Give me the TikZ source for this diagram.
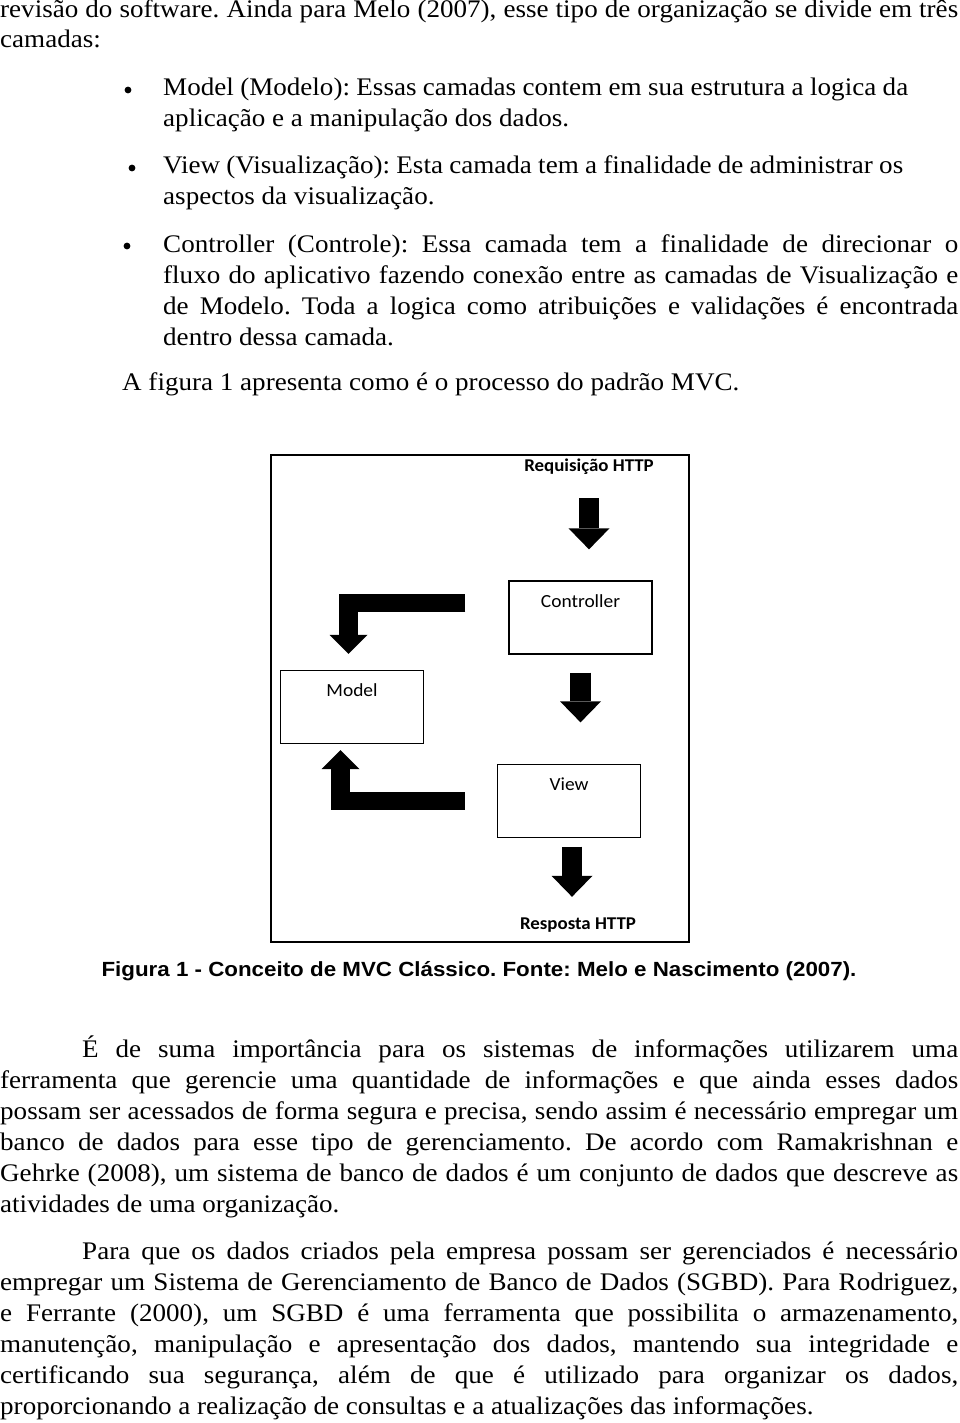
\documentclass[tikz,border=0pt]{standalone}
\usepackage{fontspec}
\setmainfont{Liberation Serif}[FakeStretch=1.07]
\newfontfamily\capfont{Liberation Sans}[FakeStretch=1.09]
\newfontfamily\figfont{Carlito}[FakeStretch=1.05]
\usetikzlibrary{arrows.meta}
\newcommand{\jl}[2]{\makebox[#1pt][s]{#2}}
\frenchspacing

\begin{document}
\begin{tikzpicture}[x=1pt,y=-1pt,
        txt/.style={anchor=base west,inner sep=0pt,font=\fontsize{25.3}{31}\selectfont},
        box/.style={draw,line width=1.3pt,minimum width=143pt,inner xsep=0pt,inner ysep=13pt,
            text height=13pt,text depth=34pt,font=\figfont\fontsize{18.5}{20}\selectfont},
        lbl/.style={inner sep=0pt,text height=13pt,text depth=4pt,font=\figfont\bfseries\fontsize{18}{20}\selectfont},
        blk/.style={line width=20.5pt,-{Triangle[width=41pt,length=21pt,line width=0pt]}},
        bnt/.style={line width=18.5pt,line join=miter,-{Triangle[width=38pt,length=19pt,line width=0pt]}}]
        \useasboundingbox (0,0) rectangle (960,1423);
        % text above the figure
        \node[txt] (t1) at (0,18) {\jl{958}{revisão do software. Ainda para Melo (2007), esse tipo de organização se divide em três}};
        \node[txt] (t2) at (0,48) {camadas:};
        \fill (128,90) circle (3.4pt) (132,168) circle (3.4pt) (127,246) circle (3.4pt);
        \node[txt] (t3) at (163,96) {\jl{745}{Model (Modelo): Essas camadas contem em sua estrutura a logica da}};
        \node[txt] (t4) at (163,127) {aplicação e a manipulação dos dados.};
        \node[txt] (t5) at (163,174) {\jl{740}{View (Visualização): Esta camada tem a finalidade de administrar os}};
        \node[txt] (t6) at (163,205) {aspectos da visualização.};
        \node[txt] (t7) at (163,252) {\jl{795}{Controller (Controle): Essa camada tem a finalidade de direcionar o}};
        \node[txt] (t8) at (163,283) {\jl{795}{fluxo do aplicativo fazendo conexão entre as camadas de Visualização e}};
        \node[txt] (t9) at (163,314) {\jl{795}{de Modelo. Toda a logica como atribuições e validações é encontrada}};
        \node[txt] (t10) at (163,345) {dentro dessa camada.};
        \node[txt] (t11) at (122,390) {A figura 1 apresenta como é o processo do padrão MVC.};
        % the MVC figure
        \draw[line width=2.7pt] (271,455) rectangle (689,942);
        \node[lbl] (req) at (589,467) {Requisição HTTP};
        \node[box] (ctrl) at (580.5,617.5) {Controller};
        \node[box] (model) at (352,707) {Model};
        \node[box] (view) at (569,801) {View};
        \node[lbl] (resp) at (578,925) {Resposta HTTP};
        \draw[blk,shorten <=22.5pt,shorten >=31pt] (req.south) -- (req.south |- ctrl.north);
        \draw[blk,shorten <=18pt,shorten >=41.5pt] (ctrl.south) -- (ctrl.south |- view.north);
        \draw[blk,shorten <=8.5pt,shorten >=19.5pt] ([xshift=3pt]view.south) -- ([xshift=-6pt]resp.north);
        \draw[bnt] ([xshift=-43pt,yshift=14.5pt]ctrl.west) -| ([xshift=-3.5pt,yshift=16pt]model.north);
        \draw[bnt] ([xshift=-32pt]view.west) -| ([xshift=-11.5pt,yshift=-6pt]model.south);
        \node[anchor=base,inner sep=0pt,font=\capfont\bfseries\fontsize{20.5}{24}\selectfont] (cap) at (479,976)
            {Figura 1 - Conceito de MVC Clássico. Fonte: Melo e Nascimento (2007).};
        % text below the figure
        \node[txt] (p1) at (82,1057) {\jl{876}{É de suma importância para os sistemas de informações utilizarem uma}};
        \node[txt] (p2) at (0,1088) {\jl{958}{ferramenta que gerencie uma quantidade de informações e que ainda esses dados}};
        \node[txt] (p3) at (0,1119) {\jl{958}{possam ser acessados de forma segura e precisa, sendo assim é necessário empregar um}};
        \node[txt] (p4) at (0,1150) {\jl{958}{banco de dados para esse tipo de gerenciamento. De acordo com Ramakrishnan e}};
        \node[txt] (p5) at (0,1181) {\jl{958}{Gehrke (2008), um sistema de banco de dados é um conjunto de dados que descreve as}};
        \node[txt] (p6) at (0,1212) {atividades de uma organização.};
        \node[txt] (p7) at (82,1259) {\jl{876}{Para que os dados criados pela empresa possam ser gerenciados é necessário}};
        \node[txt] (p8) at (0,1290) {\jl{958}{empregar um Sistema de Gerenciamento de Banco de Dados (SGBD). Para Rodriguez,}};
        \node[txt] (p9) at (0,1321) {\jl{958}{e Ferrante (2000), um SGBD é uma ferramenta que possibilita o armazenamento,}};
        \node[txt] (p10) at (0,1352) {\jl{958}{manutenção, manipulação e apresentação dos dados, mantendo sua integridade e}};
        \node[txt] (p11) at (0,1383) {\jl{958}{certificando sua segurança, além de que é utilizado para organizar os dados,}};
        \node[txt] (p12) at (0,1414) {proporcionando a realização de consultas e a atualizações das informações.};
    \end{tikzpicture}
\end{document}
